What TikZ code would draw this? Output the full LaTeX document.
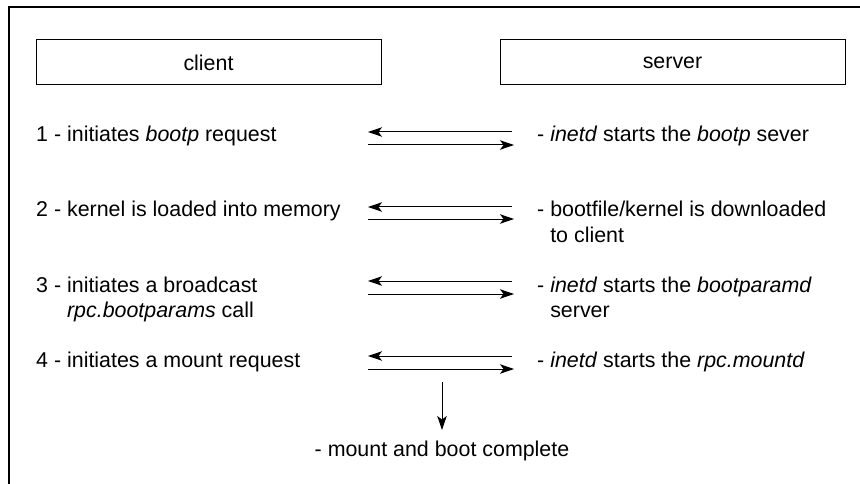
\documentclass[tikz,border=0pt]{standalone}
\usepackage{fontspec}
\setmainfont{Liberation Sans}
\usetikzlibrary{arrows.meta}

\begin{document}
\begin{tikzpicture}[x=1pt,y=-1pt,
  every node/.style={font=\fontsize{21.4}{25}\selectfont, inner sep=0pt},
  hostbox/.style={draw, line width=1pt, minimum width=345pt, minimum height=45pt},
  msg/.style={-{Stealth[length=14pt,width=9.5pt,inset=3.5pt]}, line width=1pt},
  clientstep/.style={anchor=base west},
  serverstep/.style={anchor=base west}]
\useasboundingbox (0,0) rectangle (860,484);
\draw[line width=1.3pt] (861,7) -- (9,7) -- (9,485);

% headers
\node[hostbox] (client) at (208.5,62.5) {client};
\node[hostbox] (server) at (672.5,62.5) {server};

% client side
\node[clientstep] (c1) at (36,142) {1 - initiates \textit{bootp} request};
\node[clientstep] (c2) at (36,217) {2 - kernel is loaded into memory};
\node[clientstep] (c3) at (36,292) {3 - \begin{tabular}[t]{@{}l@{}}initiates a broadcast\\\textit{rpc.bootparams} call\end{tabular}};
\node[clientstep] (c4) at (36,367) {4 - initiates a mount request};

% server side
\node[serverstep] (s1) at (537,142) {- \textit{inetd} starts the \textit{bootp} sever};
\node[serverstep] (s2) at (537,217) {- \begin{tabular}[t]{@{}l@{}}bootfile/kernel is downloaded\\to client\end{tabular}};
\node[serverstep] (s3) at (537,292) {- \begin{tabular}[t]{@{}l@{}}\textit{inetd} starts the \textit{bootparamd}\\server\end{tabular}};
\node[serverstep] (s4) at (537,367) {- \textit{inetd} starts the \textit{rpc.mountd}};

\node[anchor=base] (done) at (442,456) {- mount and boot complete};

% message ends
\coordinate (l1) at (368,132); \coordinate (r1) at (512,132);
\coordinate (la1) at (368,145); \coordinate (ra1) at (514,145);
\coordinate (l2) at (368,207); \coordinate (r2) at (512,207);
\coordinate (la2) at (368,219); \coordinate (ra2) at (514,219);
\coordinate (l3) at (368,281); \coordinate (r3) at (512,281);
\coordinate (la3) at (368,294); \coordinate (ra3) at (514,294);
\coordinate (l4) at (368,356); \coordinate (r4) at (512,356);
\coordinate (la4) at (368,369); \coordinate (ra4) at (514,369);
\coordinate (top) at (442,382);
\coordinate (bot) at (442,430);

\draw[msg] (r1) -- (l1);
\draw[msg] (la1) -- (ra1);
\draw[msg] (r2) -- (l2);
\draw[msg] (la2) -- (ra2);
\draw[msg] (r3) -- (l3);
\draw[msg] (la3) -- (ra3);
\draw[msg] (r4) -- (l4);
\draw[msg] (la4) -- (ra4);
\draw[msg] (top) -- (bot);
\end{tikzpicture}
\end{document}
